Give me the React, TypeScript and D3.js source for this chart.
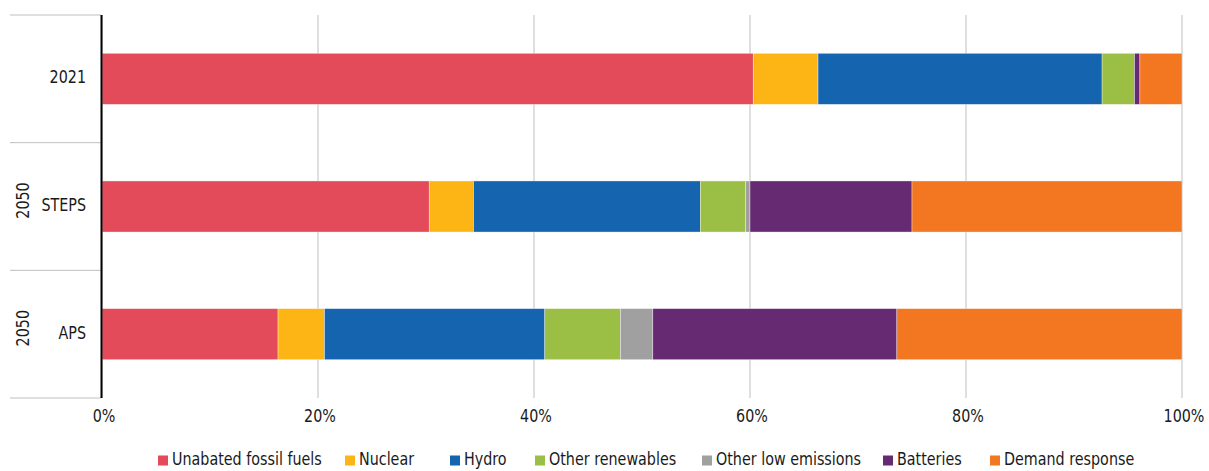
import React from "react";
import * as d3 from "d3";

const categories = ["2021", "STEPS", "APS"];
const groupLabels = ["", "2050", "2050"];
const seriesNames = [
  "Unabated fossil fuels",
  "Nuclear",
  "Hydro",
  "Other renewables",
  "Other low emissions",
  "Batteries",
  "Demand response",
];
const fossil = [60.3, 30.3, 16.3];
const nuclear = [6.0, 4.1, 4.3];
const hydro = [26.3, 21.0, 20.4];
const otherRenewables = [3.0, 4.2, 7.0];
const otherLowEmissions = [0.0, 0.4, 3.0];
const batteries = [0.5, 15.0, 22.6];
const demandResponse = [3.9, 25.0, 26.4];
const xTicks = [0, 20, 40, 60, 80, 100];

const colors = ["#E34A5A", "#FDB515", "#1464AF", "#9BBE45", "#A0A0A0", "#662A72", "#F37721"];
const legendX = [158, 345, 450, 535, 702, 883, 990];

const W = 1209;
const H = 471;
const FONT = "'DejaVu Sans Condensed', 'DejaVu Sans', sans-serif";
const FS = 18.5;
const SX = 0.86;
const TXT = "#1a1a1a";

export default function App() {
  const seriesValues = [fossil, nuclear, hydro, otherRenewables, otherLowEmissions, batteries, demandResponse];
  const rows = categories.map((c, i) => {
    const r: any = { cat: c };
    seriesNames.forEach((s, j) => (r[s] = seriesValues[j][i]));
    return r;
  });
  const stack = d3.stack<any>().keys(seriesNames)(rows);

  const x = d3.scaleLinear().domain([0, 100]).range([102, 1182]);
  const top = 15;
  const bottom = 398;
  const y = d3.scaleBand().domain(categories).range([top, bottom]).paddingInner(0.6).paddingOuter(0.3);
  const step = y.step();

  return (
    <svg width={W} height={H} style={{ position: "absolute", left: 0, top: 0 }} fontFamily={FONT}>
      <rect width={W} height={H} fill="#fff" />
      {xTicks.map((t) => (
        <line key={t} x1={x(t)} x2={x(t)} y1={top} y2={bottom} stroke="#BFBFBF" strokeWidth={1} />
      ))}
      {d3.range(categories.length + 1).map((i) => (
        <line key={i} x1={10} x2={101} y1={top + i * step} y2={top + i * step} stroke="#BFBFBF" strokeWidth={1} />
      ))}
      {stack.map((s, j) => (
        <g key={s.key} fill={colors[j]}>
          {s.map((d, i) =>
            d[1] - d[0] > 0 ? (
              <rect
                key={i}
                x={x(d[0])}
                width={x(d[1]) - x(d[0])}
                y={y(categories[i])}
                height={y.bandwidth()}
                stroke="#ffffff"
                strokeOpacity={0.6}
                strokeWidth={0.6}
              />
            ) : null
          )}
        </g>
      ))}
      <line x1={101.5} x2={101.5} y1={top} y2={bottom} stroke="#000" strokeWidth={2} />
      {categories.map((c, i) => {
        const cy = (y(c) as number) + y.bandwidth() / 2;
        return (
          <g key={c}>
            <text
              transform={`translate(86,${cy + 4.5}) scale(${SX},1)`}
              textAnchor="end"
              fontSize={FS}
              fill={TXT}
            >
              {c}
            </text>
            {groupLabels[i] && (
              <text
                transform={`translate(29,${cy - 6}) rotate(-90) scale(${SX},1)`}
                textAnchor="middle"
                fontSize={FS}
                fill={TXT}
              >
                {groupLabels[i]}
              </text>
            )}
          </g>
        );
      })}
      {xTicks.map((t) => (
        <text
          key={t}
          transform={`translate(${x(t) + 2},422) scale(${SX},1)`}
          textAnchor="middle"
          fontSize={FS}
          fill={TXT}
        >
          {t}%
        </text>
      ))}
      {seriesNames.map((s, j) => (
        <g key={s} transform={`translate(${legendX[j]},465)`}>
          <rect x={0} y={-9.5} width={10} height={10} fill={colors[j]} />
          <text transform={`translate(14,0) scale(${SX},1)`} fontSize={FS} fill={TXT}>
            {s}
          </text>
        </g>
      ))}
    </svg>
  );
}
